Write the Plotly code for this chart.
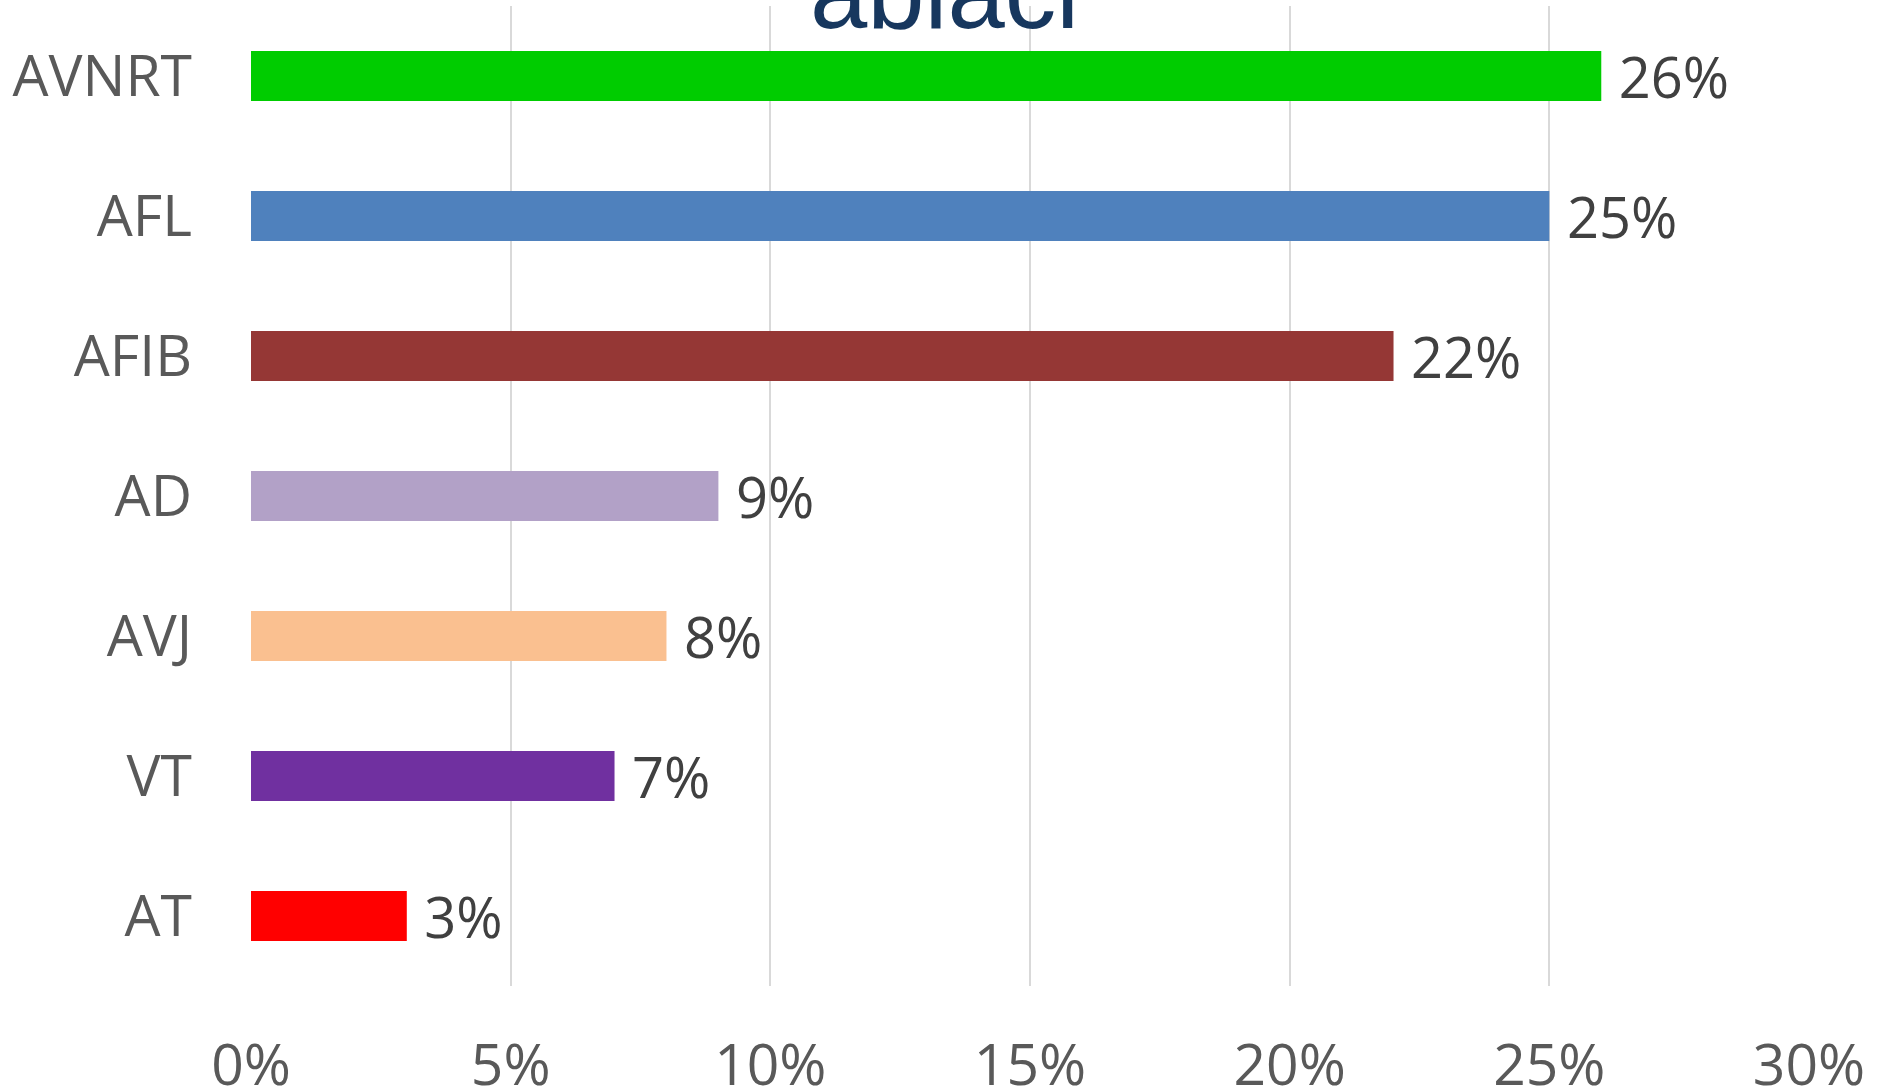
import plotly.graph_objects as go

categories = ["AVNRT", "AFL", "AFIB", "AD", "AVJ", "VT", "AT"]
values = [0.26, 0.25, 0.22, 0.09, 0.08, 0.07, 0.03]
colors = ["#00CC00", "#4F81BD", "#953735", "#B2A1C7", "#FAC090", "#7030A0", "#FF0000"]
tick_vals = [0, 0.05, 0.10, 0.15, 0.20, 0.25, 0.30]
tick_text = ["0%", "5%", "10%", "15%", "20%", "25%", "30%"]
title_text = "ablaci"

W, H = 1879, 1091
ML, MR, MT, MB = 251, 70, 6, 105

fig = go.Figure()
fig.add_trace(go.Bar(
    y=categories,
    x=values,
    orientation="h",
    marker=dict(color=colors, line=dict(width=0)),
    text=[f" {round(v * 100)}%" for v in values],
    textposition="outside",
    constraintext="none",
    cliponaxis=False,
    textfont=dict(family="Open Sans", size=56, color="#404040"),
    hoverinfo="skip",
))

fig.update_layout(
    width=W, height=H,
    margin=dict(l=ML, r=MR, t=MT, b=MB, pad=0),
    paper_bgcolor="white",
    plot_bgcolor="white",
    showlegend=False,
    bargap=0.643,
    xaxis=dict(
        range=[0, 0.30],
        tickvals=tick_vals,
        ticktext=tick_text,
        showgrid=True,
        gridcolor="#D9D9D9",
        gridwidth=2,
        zeroline=False,
        showline=False,
        ticks="",
        automargin=False,
        ticklabelstandoff=41,
        tickfont=dict(family="Open Sans", size=57, color="#595959"),
    ),
    yaxis=dict(
        autorange="reversed",
        showgrid=False,
        zeroline=False,
        showline=False,
        ticks="",
        automargin=False,
        ticklabelstandoff=58,
        tickfont=dict(family="Open Sans", size=57, color="#595959"),
    ),
    annotations=[dict(
        text=title_text,
        xref="paper", yref="paper",
        x=(944 - ML) / (W - ML - MR), xanchor="center",
        y=1.0, yanchor="bottom",
        yshift=-46,
        showarrow=False,
        font=dict(family="Liberation Sans", size=103, color="#17375E"),
    )],
)

fig.write_html(
    "out.html",
    config={"displayModeBar": False},
    post_script="document.body.style.margin='0';document.body.style.overflow='hidden';",
)
